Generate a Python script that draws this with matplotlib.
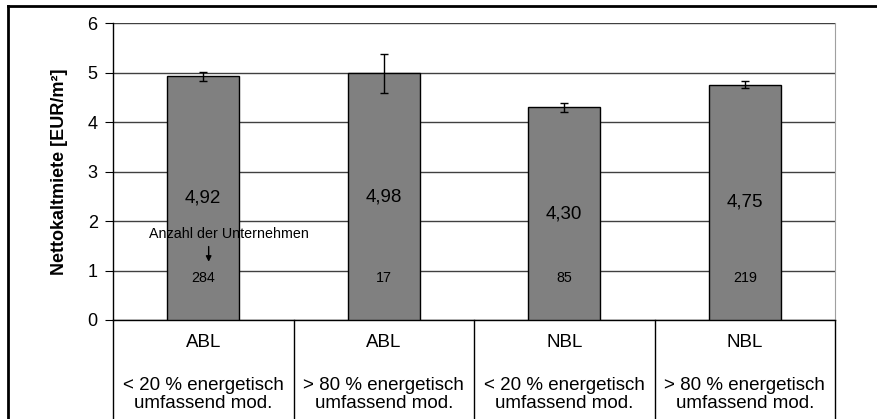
import numpy as np
import matplotlib.pyplot as plt
from matplotlib.lines import Line2D

plt.rcParams['font.family'] = ['Liberation Sans', 'DejaVu Sans']

# data
regions = ['ABL', 'ABL', 'NBL', 'NBL']
groups = ['< 20 % energetisch\numfassend mod.', '> 80 % energetisch\numfassend mod.',
          '< 20 % energetisch\numfassend mod.', '> 80 % energetisch\numfassend mod.']
miete = [4.92, 4.98, 4.30, 4.75]
fehler = [0.09, 0.39, 0.09, 0.07]
anzahl = [284, 17, 85, 219]
labels = ['4,92', '4,98', '4,30', '4,75']

fig = plt.figure(figsize=(8.77, 4.19), dpi=100)
ax = fig.add_axes([113/877, 1-320/419, (835-113)/877, (320-23)/419])

x = np.arange(len(miete))
ax.bar(x, miete, width=0.4, color='#808080', edgecolor='black', linewidth=1, zorder=3)
ax.errorbar(x, miete, yerr=fehler, fmt='none', ecolor='black', elinewidth=1,
            capsize=3, capthick=1, zorder=4)

for i in range(len(miete)):
    ax.text(x[i], miete[i]/2, labels[i], ha='center', va='center', fontsize=13.5, zorder=5)
    ax.text(x[i], 0.85, str(anzahl[i]), ha='center', va='center', fontsize=10.3, zorder=5)

ax.text(0.14, 1.74, 'Anzahl der Unternehmen', ha='center', va='center', fontsize=10.3, zorder=5)
ax.annotate('', xy=(0.03, 1.12), xytext=(0.03, 1.54),
            arrowprops=dict(arrowstyle='-|>', color='black', lw=1, mutation_scale=8), zorder=5)

ax.set_xlim(-0.5, 3.5)
ax.set_ylim(0, 6)
ax.set_yticks(range(7))
ax.tick_params(axis='y', labelsize=13, length=6, pad=5)
ax.set_xticks([])
ax.yaxis.grid(True, color='#404040', linewidth=1)
ax.set_axisbelow(True)
ax.spines['top'].set_visible(False)
ax.spines['right'].set_color('#a0a0a0')
ax.spines['left'].set_linewidth(1)
ax.spines['bottom'].set_linewidth(1)
ax.set_ylabel('Nettokaltmiete [EUR/m²]', fontsize=13, fontweight='bold', labelpad=14)

# table below the chart
trans = ax.get_xaxis_transform()
for xv in [-0.5, 0.5, 1.5, 2.5, 3.5]:
    ax.plot([xv, xv], [0, -0.4], color='black', lw=1, transform=trans, clip_on=False)
for i in range(len(regions)):
    ax.text(x[i], -0.077, regions[i], ha='center', va='center', fontsize=13.5, transform=trans)
    ax.text(x[i], -0.25, groups[i], ha='center', va='center', fontsize=13.5,
            linespacing=1.05, transform=trans)

# outer frame (top and left)
fig.add_artist(Line2D([8/877, 1], [1-6/419, 1-6/419], color='black', lw=2))
fig.add_artist(Line2D([8/877, 8/877], [0, 1-6/419], color='black', lw=2))

fig.savefig('out.png', dpi=100)
